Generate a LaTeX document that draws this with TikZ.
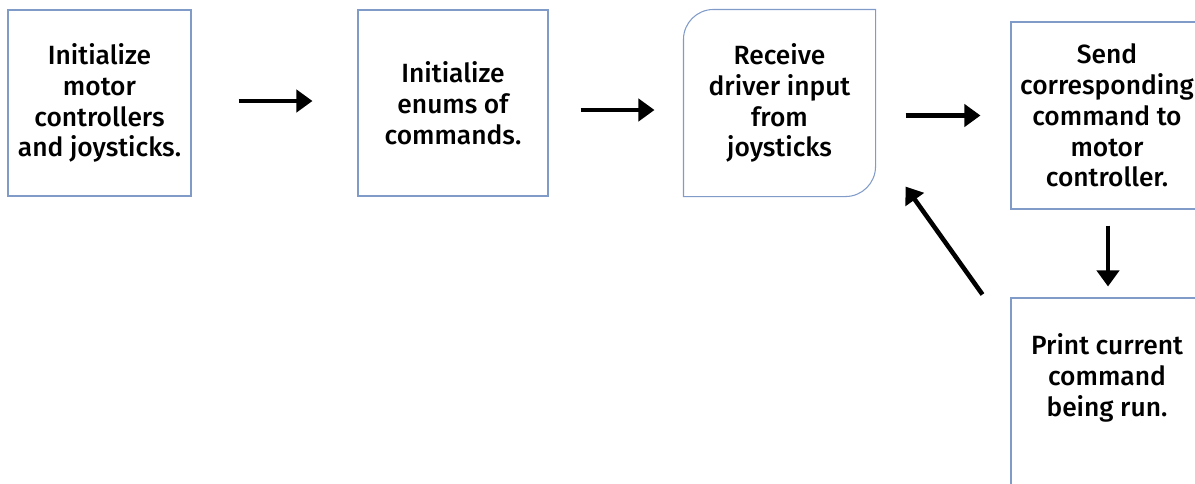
\documentclass[tikz,border=0pt]{standalone}
\usepackage{fontspec}
\setmainfont{Fira Sans}[UprightFont={* Medium}]
\usetikzlibrary{positioning,arrows.meta}
\definecolor{boxblue}{RGB}{128,155,200}

\begin{document}
\begin{tikzpicture}[node distance=6.53cm, thick,
	box/.style = {draw=boxblue, line width=0.6pt, minimum width=3.8cm, minimum height=3.72cm, align=center, inner sep=2pt, font=\fontsize{15}{17.5}\selectfont},
	flow/.style = {line width=2.6pt, -{Triangle[length=0.32cm,width=0.44cm]}}]
		\useasboundingbox (0,0) rectangle (23.9,-9.66);
		\clip (0,0) rectangle (23.9,-9.66);
		%Top row of steps
		\node[box, minimum width=3.66cm] (1) at (1.99,-2.06) {Initialize\\motor\\controllers\\and joysticks.};
		\node[box] (2) [node distance={7.07cm}, right of=1] {Initialize\\enums of\\commands.};
		\node[box, draw=none, minimum width=3.82cm] (3) [right of=2] {Receive\\driver input\\from\\joysticks};
		\node[box, minimum width=3.84cm, minimum height=3.74cm] (4) [node distance={6.55cm}, right of=3, yshift=-0.25cm] {Send\\corresponding\\command to\\motor\\controller.};
		%Bottom step, runs off the page
		\node[box, minimum width=3.84cm, minimum height=4cm] (5) [node distance={5.65cm}, below of=4] {};
		\node[font=\fontsize{15}{17.5}\selectfont, align=center] (6) [node distance={0.4cm}, above of=5] {Print current\\command\\being run.};
		
		%Outline of 3 with two round corners
		\draw[boxblue, line width=0.6pt] (3.north east) -- (3.east) [rounded corners=0.6cm] |- (3.south) [sharp corners] -- (3.south west) -- (3.west) [rounded corners=0.6cm] |- (3.north) [sharp corners] -- cycle;
		
		%Arrows between steps
		\draw[flow, shorten <=0.94cm, shorten >=0.9cm] ([yshift=0.04cm]1.east) -- ([yshift=0.04cm]2.west); %1 -> 2
		\draw[flow, shorten <=0.64cm, shorten >=0.58cm] ([yshift=-0.14cm]2.east) -- ([yshift=-0.14cm]3.west); %2 -> 3
		\draw[flow, shorten <=0.6cm, shorten >=0.6cm] (3.east |- 4.west) -- (4.west); %3 -> 4
		\draw[flow, shorten <=0.32cm, shorten >=0.22cm] ([xshift=0.02cm]4.south) -- ([xshift=0.02cm]5.north); %4 -> 5
		\draw[flow] ([xshift=-0.56cm,yshift=0.06cm]5.north west) -- ([xshift=0.6cm,yshift=0.2cm]3.south east); %5 -> 3
	\end{tikzpicture}
\end{document}
